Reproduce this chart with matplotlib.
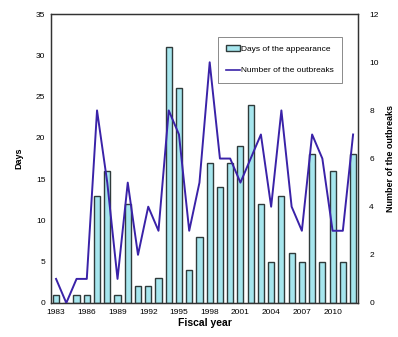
import matplotlib
matplotlib.use('Agg')
import matplotlib.pyplot as plt
from matplotlib.patches import Patch
from matplotlib.lines import Line2D

plt.rcParams['font.family'] = ['Liberation Sans', 'DejaVu Sans']

years = list(range(1983, 2013))
days = [1, 0, 1, 1, 13, 16, 1, 12, 2, 2, 3, 31, 26, 4, 8,
        17, 14, 17, 19, 24, 12, 5, 13, 6, 5, 18, 5, 16, 5, 18]
outbreaks = [1, 0, 1, 1, 8, 5, 1, 5, 2, 4, 3, 8, 7, 3, 5,
             10, 6, 6, 5, 6, 7, 4, 8, 4, 3, 7, 6, 3, 3, 7]
year_ticks = list(range(1983, 2012, 3))

bar_color = '#a6e6ee'
edge_color = '#2f3b3b'
line_color = '#3a22a8'

fig = plt.figure(figsize=(3.98, 3.37), dpi=100)
ax = fig.add_axes([0.128, 0.101, 0.772, 0.857])
ax.bar(years, days, width=0.6, color=bar_color, edgecolor=edge_color, linewidth=1.0, zorder=2)
ax.set_xlim(1982.5, 2012.5)
ax.set_ylim(0, 35)
ax.set_yticks(range(0, 36, 5))
ax.set_xticks(year_ticks)
ax.tick_params(labelsize=6, length=0, pad=4)
ax.set_ylabel('Days', fontsize=6.5, fontweight='bold', labelpad=9)
ax.set_xlabel('Fiscal year', fontsize=7.5, fontweight='bold', labelpad=2)

ax2 = ax.twinx()
ax2.plot(years, outbreaks, color=line_color, linewidth=1.4, zorder=3)
ax2.set_ylim(0, 12)
ax2.set_yticks(range(0, 13, 2))
ax2.tick_params(labelsize=6, length=0, pad=8)
ax2.set_ylabel('Number of the outbreaks', fontsize=6.5, fontweight='bold', labelpad=5)

for a in (ax, ax2):
    for s in a.spines.values():
        s.set_linewidth(0.9)
        s.set_color('#333333')

handles = [Patch(facecolor=bar_color, edgecolor=edge_color, linewidth=1.0),
           Line2D([], [], color=line_color, linewidth=1.2)]
leg = ax2.legend(handles, ['Days of the appearance', 'Number of the outbreaks'],
                 loc='upper right', bbox_to_anchor=(0.96, 0.935), fontsize=6,
                 frameon=True, fancybox=False, edgecolor='#555555',
                 handlelength=1.6, handletextpad=0.1, borderpad=1.0, labelspacing=1.6)
leg.get_frame().set_linewidth(0.6)

fig.savefig('out.png', dpi=100)
